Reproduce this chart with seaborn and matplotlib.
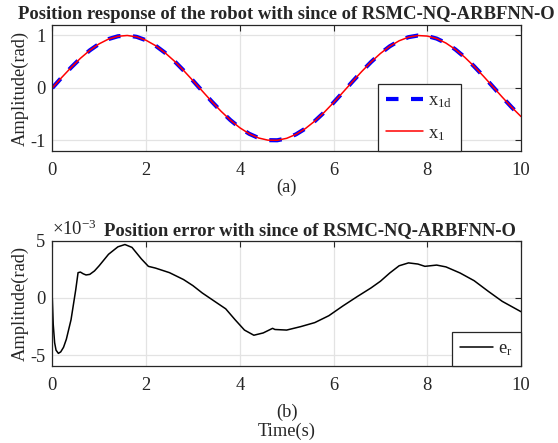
import numpy as np
import pandas as pd
import matplotlib
matplotlib.use("Agg")
import matplotlib.pyplot as plt
import seaborn as sns

# ---------------- data ----------------
t_pos = [0.0, 0.2, 0.4, 0.6, 0.8, 1.0, 1.2, 1.4, 1.6, 1.8, 2.0, 2.2, 2.4, 2.6, 2.8,
         3.0, 3.2, 3.4, 3.6, 3.8, 4.0, 4.2, 4.4, 4.6, 4.8, 5.0, 5.2, 5.4, 5.6, 5.8,
         6.0, 6.2, 6.4, 6.6, 6.8, 7.0, 7.2, 7.4, 7.6, 7.8, 8.0, 8.2, 8.4, 8.6, 8.8,
         9.0, 9.2, 9.4, 9.6, 9.8, 10.0]
x1d = [0.000, 0.199, 0.389, 0.565, 0.717, 0.841, 0.932, 0.985, 1.000, 0.974,
       0.909, 0.808, 0.675, 0.516, 0.335, 0.141, -0.058, -0.256, -0.443, -0.612,
       -0.757, -0.872, -0.952, -0.994, -0.996, -0.959, -0.883, -0.773, -0.631, -0.465,
       -0.279, -0.083, 0.117, 0.312, 0.494, 0.657, 0.794, 0.899, 0.968, 0.999,
       0.989, 0.941, 0.855, 0.734, 0.585, 0.412, 0.223, 0.025, -0.174, -0.366, -0.544]
x1 = [0.000, 0.199, 0.389, 0.565, 0.717, 0.841, 0.932, 0.985, 1.000, 0.974,
      0.909, 0.808, 0.675, 0.516, 0.335, 0.141, -0.058, -0.256, -0.443, -0.612,
      -0.757, -0.872, -0.952, -0.994, -0.996, -0.959, -0.883, -0.773, -0.631, -0.465,
      -0.279, -0.083, 0.117, 0.312, 0.494, 0.657, 0.794, 0.899, 0.968, 0.999,
      0.989, 0.941, 0.855, 0.734, 0.585, 0.412, 0.223, 0.025, -0.174, -0.366, -0.544]

# position error, in units of 1e-3 rad
t_err = [0.0, 0.02, 0.05, 0.08, 0.13, 0.18, 0.24, 0.30, 0.40, 0.50, 0.55, 0.60,
         0.66, 0.72, 0.80, 0.90, 1.00, 1.20, 1.40, 1.55, 1.70, 1.90, 2.05, 2.20,
         2.50, 2.80, 3.00, 3.20, 3.50, 3.70, 3.90, 4.10, 4.30, 4.50, 4.70, 4.75,
         5.00, 5.30, 5.60, 5.90, 6.20, 6.50, 6.80, 7.00, 7.20, 7.40, 7.60, 7.80,
         7.95, 8.20, 8.40, 8.70, 9.00, 9.30, 9.60, 10.0]
err = [0.0, -2.3, -3.9, -4.55, -4.83, -4.7, -4.3, -3.6, -1.9, 0.7, 2.2, 2.25,
       2.1, 2.0, 2.05, 2.35, 2.8, 3.8, 4.45, 4.65, 4.4, 3.4, 2.75, 2.6,
       2.2, 1.6, 1.07, 0.43, -0.4, -0.95, -1.9, -2.8, -3.25, -3.05, -2.65, -2.75,
       -2.8, -2.5, -2.15, -1.55, -0.7, 0.1, 0.87, 1.45, 2.17, 2.8, 3.05, 2.95,
       2.75, 2.86, 2.7, 2.17, 1.5, 0.58, -0.3, -1.2]

title_a = "Position response of the robot with since of RSMC-NQ-ARBFNN-O"
title_b = "Position error with since of RSMC-NQ-ARBFNN-O"
xticks = [0, 2, 4, 6, 8, 10]

# ---------------- style ----------------
sns.set_style("white")
plt.rcParams["font.family"] = ["Liberation Serif", "DejaVu Serif"]
plt.rcParams["mathtext.fontset"] = "custom"
plt.rcParams["mathtext.rm"] = "Liberation Serif"
plt.rcParams["mathtext.it"] = "Liberation Serif:italic"
plt.rcParams["mathtext.bf"] = "Liberation Serif:bold"

FS = 13.3
TFS = 13.4
TXT = "#262626"

fig = plt.figure(figsize=(5.58, 4.43), dpi=100)
ax1 = fig.add_axes([0.0937, 0.6592, 0.8400, 0.2844])
ax2 = fig.add_axes([0.0937, 0.1738, 0.8400, 0.2833])

df_pos = pd.DataFrame({"t": t_pos, "x1d": x1d, "x1": x1})
df_err = pd.DataFrame({"t": t_err, "e": err})

sns.lineplot(data=df_pos, x="t", y="x1d", ax=ax1, color="#0000ff", linewidth=3.0,
             linestyle=(0, (3, 3)), estimator=None, label=r"$\mathregular{x_{1d}}$")
sns.lineplot(data=df_pos, x="t", y="x1", ax=ax1, color="#ff0000", linewidth=1.1,
             estimator=None, label=r"$\mathregular{x_{1}}$")
sns.lineplot(data=df_err, x="t", y="e", ax=ax2, color="black", linewidth=1.1,
             estimator=None, label=r"$\mathregular{e_{r}}$")

for ax in (ax1, ax2):
    ax.set_xlim(0, 10)
    ax.set_xticks(xticks)
    ax.grid(True, color="#e3e3e3", linewidth=0.9)
    ax.set_axisbelow(True)
    for s in ax.spines.values():
        s.set_color(TXT)
        s.set_linewidth(0.9)
    ax.tick_params(direction="in", length=4, width=0.8, top=True, right=True,
                   labelsize=FS, colors=TXT, labelcolor=TXT)
    ax.tick_params(axis="x", pad=8)
    ax.tick_params(axis="y", pad=5)
    ax.set_ylabel("Amplitude(rad)", fontsize=FS, color=TXT, labelpad=1)

ax1.set_ylim(-1.2, 1.2)
ax1.set_yticks([-1, 0, 1])
ax1.set_yticklabels(["-1", "0", "1"])
ax1.set_xlabel("(a)", fontsize=FS, color=TXT, labelpad=0)
ax1.set_title(title_a, fontsize=TFS, fontweight="bold", pad=4)

ax2.set_ylim(-5.93, 5.0)
ax2.set_yticks([-5, 0, 5])
ax2.set_yticklabels(["-5", "0", "5"])
ax2.set_xlabel("(b)\nTime(s)", fontsize=FS, color=TXT, labelpad=7,
               linespacing=1.12)
ax2.set_title(title_b, fontsize=TFS, fontweight="bold", pad=4, x=0.55)
ax2.text(0.0, 1.01, r"$\mathregular{\times10^{-3}}$", transform=ax2.transAxes,
         fontsize=13.5, color=TXT, ha="left", va="bottom")

leg1 = ax1.legend(loc="lower right", bbox_to_anchor=(0.872, 0.0), borderaxespad=0,
                  fontsize=FS, frameon=True, fancybox=False, framealpha=1,
                  edgecolor=TXT, handlelength=2.0, labelspacing=0.8,
                  borderpad=0.45, handletextpad=0.3)
leg1.get_frame().set_linewidth(0.9)
leg2 = ax2.legend(loc="lower right", borderaxespad=0, fontsize=FS, frameon=True,
                  fancybox=False, framealpha=1, edgecolor=TXT,
                  handlelength=1.75, borderpad=0.45, handletextpad=0.3)
leg2.get_frame().set_linewidth(0.9)

fig.savefig("out.png", dpi=100)
